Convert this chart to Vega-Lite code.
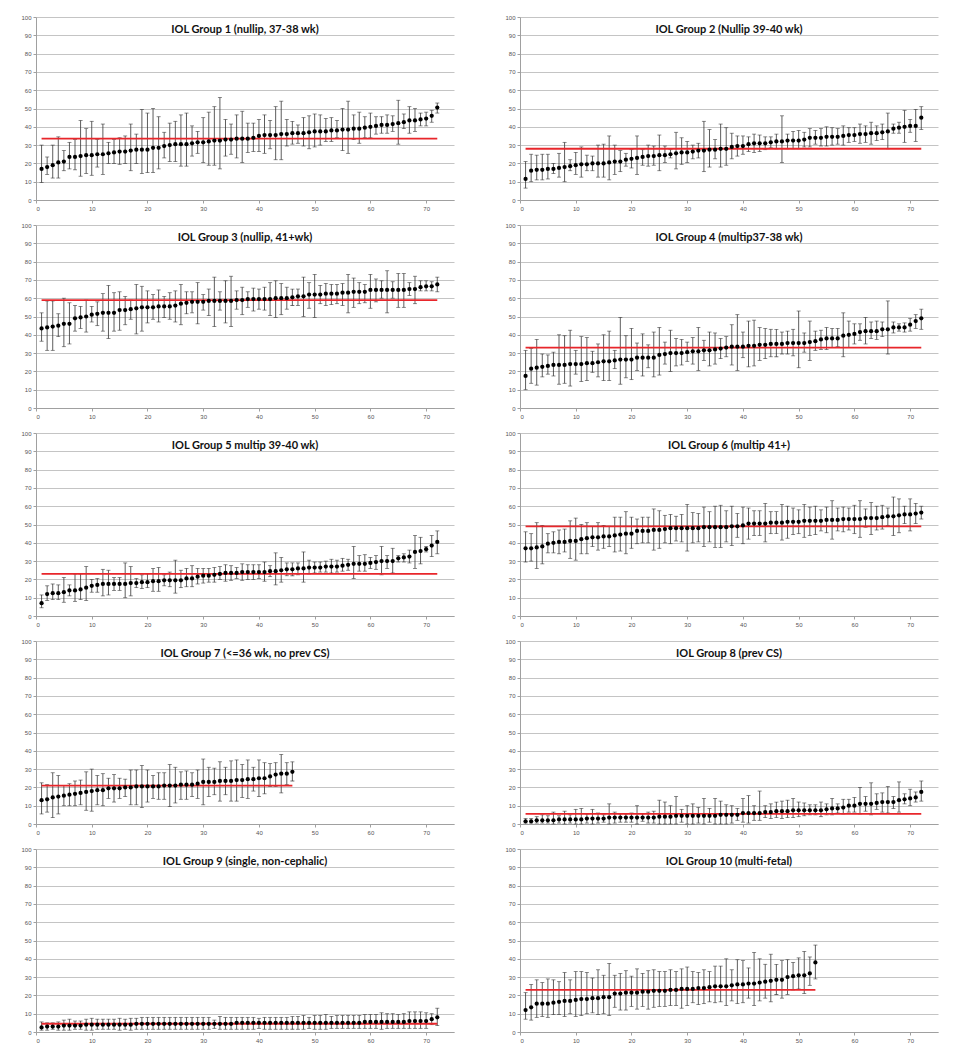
{
"$schema": "https://vega.github.io/schema/vega-lite/v6.json",
"background": "white",
"padding": {"left": 20, "top": 14, "right": 5, "bottom": 0},
"spacing": {"row": 11, "column": 50},
"columns": 2,
"datasets": {
"means": [
{"g":1,"a":1,"b":72,"m":33.5},{"g":2,"a":1,"b":72,"m":28},{"g":3,"a":1,"b":72,"m":59},{"g":4,"a":1,"b":72,"m":33},{"g":5,"a":1,"b":72,"m":23},
{"g":6,"a":1,"b":72,"m":49},{"g":7,"a":1,"b":46,"m":21},{"g":8,"a":1,"b":72,"m":5.5},{"g":9,"a":1,"b":72,"m":4.5},{"g":10,"a":1,"b":53,"m":23}
],
"pts": [
{"g":1,"i":1,"m":17,"lo":9.5,"hi":30},{"g":1,"i":2,"m":18,"lo":14,"hi":23.5},{"g":1,"i":3,"m":19,"lo":12,"hi":30},{"g":1,"i":4,"m":20.5,"lo":12,"hi":34.5},{"g":1,"i":5,"m":21,"lo":16,"hi":27},{"g":1,"i":6,"m":23.5,"lo":17,"hi":31.5},{"g":1,"i":7,"m":23.5,"lo":16.5,"hi":33},{"g":1,"i":8,"m":24,"lo":13,"hi":43.5},{"g":1,"i":9,"m":24.5,"lo":14.5,"hi":39},{"g":1,"i":10,"m":24.5,"lo":13.5,"hi":43},
{"g":1,"i":11,"m":25,"lo":18,"hi":33},{"g":1,"i":12,"m":25,"lo":14,"hi":41.5},{"g":1,"i":13,"m":25.5,"lo":20,"hi":31.5},{"g":1,"i":14,"m":26,"lo":20,"hi":33},{"g":1,"i":15,"m":26.5,"lo":19.5,"hi":34},{"g":1,"i":16,"m":26.5,"lo":20,"hi":35},{"g":1,"i":17,"m":27,"lo":16,"hi":41.5},{"g":1,"i":18,"m":27.5,"lo":20,"hi":36},{"g":1,"i":19,"m":27.5,"lo":14.5,"hi":49.5},{"g":1,"i":20,"m":27.5,"lo":15,"hi":47.5},
{"g":1,"i":21,"m":28.5,"lo":15,"hi":50},{"g":1,"i":22,"m":28.5,"lo":17,"hi":45.5},{"g":1,"i":23,"m":29.5,"lo":23,"hi":37},{"g":1,"i":24,"m":30,"lo":21,"hi":42},{"g":1,"i":25,"m":30.5,"lo":21,"hi":43},{"g":1,"i":26,"m":30.5,"lo":18.5,"hi":46.5},{"g":1,"i":27,"m":30.5,"lo":18.5,"hi":47.5},{"g":1,"i":28,"m":31,"lo":24,"hi":40.5},{"g":1,"i":29,"m":31.5,"lo":25.5,"hi":37.5},{"g":1,"i":30,"m":31.5,"lo":20.5,"hi":45},
{"g":1,"i":31,"m":32,"lo":19,"hi":48},{"g":1,"i":32,"m":32.5,"lo":19,"hi":51},{"g":1,"i":33,"m":32.5,"lo":17,"hi":56},{"g":1,"i":34,"m":33,"lo":24,"hi":44},{"g":1,"i":35,"m":33,"lo":25,"hi":41.5},{"g":1,"i":36,"m":33.5,"lo":23,"hi":46.5},{"g":1,"i":37,"m":33.5,"lo":20.5,"hi":48.5},{"g":1,"i":38,"m":33.5,"lo":26,"hi":42},{"g":1,"i":39,"m":34,"lo":26.5,"hi":42},{"g":1,"i":40,"m":35,"lo":26.5,"hi":44},
{"g":1,"i":41,"m":35.5,"lo":25.5,"hi":46.5},{"g":1,"i":42,"m":35.5,"lo":28,"hi":43.5},{"g":1,"i":43,"m":35.5,"lo":22,"hi":51},{"g":1,"i":44,"m":36,"lo":22,"hi":54},{"g":1,"i":45,"m":36,"lo":29.5,"hi":44},{"g":1,"i":46,"m":36.5,"lo":30.5,"hi":43},{"g":1,"i":47,"m":36.5,"lo":31,"hi":41},{"g":1,"i":48,"m":36.5,"lo":29.5,"hi":45},{"g":1,"i":49,"m":37,"lo":28,"hi":46},{"g":1,"i":50,"m":37.5,"lo":29,"hi":47},
{"g":1,"i":51,"m":37.5,"lo":30,"hi":46.5},{"g":1,"i":52,"m":37.5,"lo":32,"hi":44.5},{"g":1,"i":53,"m":38,"lo":32,"hi":45},{"g":1,"i":54,"m":38,"lo":34,"hi":43.5},{"g":1,"i":55,"m":38.5,"lo":27,"hi":50},{"g":1,"i":56,"m":38.5,"lo":25.5,"hi":54},{"g":1,"i":57,"m":39,"lo":33,"hi":46.5},{"g":1,"i":58,"m":39,"lo":31,"hi":48},{"g":1,"i":59,"m":39.5,"lo":34,"hi":45.5},{"g":1,"i":60,"m":40,"lo":34,"hi":47.5},
{"g":1,"i":61,"m":40.5,"lo":36,"hi":45.5},{"g":1,"i":62,"m":41,"lo":36.5,"hi":45.5},{"g":1,"i":63,"m":41,"lo":36.5,"hi":46.5},{"g":1,"i":64,"m":41.5,"lo":37.5,"hi":46},{"g":1,"i":65,"m":42,"lo":30.5,"hi":54.5},{"g":1,"i":66,"m":42.5,"lo":39,"hi":47},{"g":1,"i":67,"m":43.5,"lo":36.5,"hi":51},{"g":1,"i":68,"m":43.5,"lo":37.5,"hi":50},{"g":1,"i":69,"m":44,"lo":40.5,"hi":47.5},{"g":1,"i":70,"m":44.5,"lo":40.5,"hi":48},
{"g":1,"i":71,"m":46,"lo":42.5,"hi":49},{"g":1,"i":72,"m":50.5,"lo":47.5,"hi":53},

{"g":2,"i":1,"m":11.5,"lo":6.5,"hi":21},{"g":2,"i":2,"m":16,"lo":10,"hi":25},{"g":2,"i":3,"m":16.5,"lo":11,"hi":24.5},{"g":2,"i":4,"m":16.5,"lo":11,"hi":25},{"g":2,"i":5,"m":17,"lo":11.5,"hi":25},{"g":2,"i":6,"m":17,"lo":14.5,"hi":20},{"g":2,"i":7,"m":17.5,"lo":12.5,"hi":25.5},{"g":2,"i":8,"m":18,"lo":10,"hi":31.5},{"g":2,"i":9,"m":18.5,"lo":16,"hi":22},{"g":2,"i":10,"m":19,"lo":14,"hi":26},
{"g":2,"i":11,"m":19.5,"lo":12.5,"hi":29},{"g":2,"i":12,"m":19.5,"lo":16,"hi":24.5},{"g":2,"i":13,"m":20,"lo":16,"hi":24},{"g":2,"i":14,"m":20,"lo":12.5,"hi":30},{"g":2,"i":15,"m":20,"lo":12.5,"hi":30.5},{"g":2,"i":16,"m":20.5,"lo":11,"hi":35},{"g":2,"i":17,"m":21,"lo":14,"hi":30},{"g":2,"i":18,"m":21,"lo":15.5,"hi":27},{"g":2,"i":19,"m":22,"lo":18.5,"hi":25.5},{"g":2,"i":20,"m":22.5,"lo":17.5,"hi":27.5},
{"g":2,"i":21,"m":23,"lo":14,"hi":35},{"g":2,"i":22,"m":23.5,"lo":19,"hi":27.5},{"g":2,"i":23,"m":24,"lo":18.5,"hi":30},{"g":2,"i":24,"m":24,"lo":19,"hi":29.5},{"g":2,"i":25,"m":24.5,"lo":16,"hi":35.5},{"g":2,"i":26,"m":24.5,"lo":20.5,"hi":29.5},{"g":2,"i":27,"m":25,"lo":23,"hi":27.5},{"g":2,"i":28,"m":25.5,"lo":17,"hi":37},{"g":2,"i":29,"m":26,"lo":19.5,"hi":34},{"g":2,"i":30,"m":26,"lo":20.5,"hi":32},
{"g":2,"i":31,"m":26.5,"lo":22.5,"hi":30},{"g":2,"i":32,"m":27,"lo":23,"hi":31},{"g":2,"i":33,"m":27,"lo":15.5,"hi":43},{"g":2,"i":34,"m":27.5,"lo":18,"hi":38.5},{"g":2,"i":35,"m":27.5,"lo":22.5,"hi":33},{"g":2,"i":36,"m":28,"lo":18,"hi":41.5},{"g":2,"i":37,"m":28,"lo":19,"hi":39.5},{"g":2,"i":38,"m":29,"lo":22.5,"hi":36.5},{"g":2,"i":39,"m":29.5,"lo":24,"hi":35},{"g":2,"i":40,"m":29.5,"lo":25,"hi":35},
{"g":2,"i":41,"m":30.5,"lo":26.5,"hi":34.5},{"g":2,"i":42,"m":31,"lo":26,"hi":36},{"g":2,"i":43,"m":31,"lo":26.5,"hi":35.5},{"g":2,"i":44,"m":31,"lo":27.5,"hi":34.5},{"g":2,"i":45,"m":31.5,"lo":28.5,"hi":34.5},{"g":2,"i":46,"m":32,"lo":28,"hi":36},{"g":2,"i":47,"m":32,"lo":20.5,"hi":46},{"g":2,"i":48,"m":32.5,"lo":28,"hi":36},{"g":2,"i":49,"m":32.5,"lo":28,"hi":37.5},{"g":2,"i":50,"m":32.5,"lo":28,"hi":38},
{"g":2,"i":51,"m":33,"lo":29,"hi":37},{"g":2,"i":52,"m":34,"lo":29,"hi":39},{"g":2,"i":53,"m":34,"lo":30.5,"hi":38},{"g":2,"i":54,"m":34,"lo":29.5,"hi":39},{"g":2,"i":55,"m":34.5,"lo":29.5,"hi":40},{"g":2,"i":56,"m":34.5,"lo":30,"hi":39.5},{"g":2,"i":57,"m":34.5,"lo":30.5,"hi":39},{"g":2,"i":58,"m":35,"lo":30,"hi":40.5},{"g":2,"i":59,"m":35.5,"lo":31.5,"hi":39.5},{"g":2,"i":60,"m":35.5,"lo":32,"hi":39.5},
{"g":2,"i":61,"m":36,"lo":31,"hi":41.5},{"g":2,"i":62,"m":36,"lo":31.5,"hi":40.5},{"g":2,"i":63,"m":36.5,"lo":30.5,"hi":42.5},{"g":2,"i":64,"m":36.5,"lo":32.5,"hi":40.5},{"g":2,"i":65,"m":37,"lo":33,"hi":41.5},{"g":2,"i":66,"m":37.5,"lo":28,"hi":47.5},{"g":2,"i":67,"m":39,"lo":36.5,"hi":41.5},{"g":2,"i":68,"m":39.5,"lo":36.5,"hi":42.5},{"g":2,"i":69,"m":40,"lo":31.5,"hi":49},{"g":2,"i":70,"m":40.5,"lo":37,"hi":44},
{"g":2,"i":71,"m":40.5,"lo":32,"hi":49.5},{"g":2,"i":72,"m":45,"lo":38.5,"hi":51},

{"g":3,"i":1,"m":43.5,"lo":36.5,"hi":52},{"g":3,"i":2,"m":44,"lo":31.5,"hi":58.5},{"g":3,"i":3,"m":44.5,"lo":31.5,"hi":58.5},{"g":3,"i":4,"m":45,"lo":39,"hi":51.5},{"g":3,"i":5,"m":46,"lo":33.5,"hi":60},{"g":3,"i":6,"m":46,"lo":35,"hi":57.5},{"g":3,"i":7,"m":49,"lo":42,"hi":56},{"g":3,"i":8,"m":49.5,"lo":43.5,"hi":55.5},{"g":3,"i":9,"m":50,"lo":41.5,"hi":59},{"g":3,"i":10,"m":51,"lo":47,"hi":55.5},
{"g":3,"i":11,"m":51.5,"lo":45,"hi":58},{"g":3,"i":12,"m":52,"lo":42,"hi":62.5},{"g":3,"i":13,"m":52,"lo":38,"hi":67},{"g":3,"i":14,"m":52,"lo":42,"hi":63},{"g":3,"i":15,"m":53.5,"lo":42.5,"hi":63.5},{"g":3,"i":16,"m":53.5,"lo":45.5,"hi":61},{"g":3,"i":17,"m":54,"lo":48.5,"hi":59},{"g":3,"i":18,"m":54.5,"lo":40.5,"hi":67.5},{"g":3,"i":19,"m":55,"lo":42,"hi":66.5},{"g":3,"i":20,"m":55,"lo":46.5,"hi":64},
{"g":3,"i":21,"m":55,"lo":48.5,"hi":62},{"g":3,"i":22,"m":55.5,"lo":47,"hi":64.5},{"g":3,"i":23,"m":55.5,"lo":49.5,"hi":61},{"g":3,"i":24,"m":55.5,"lo":48.5,"hi":63},{"g":3,"i":25,"m":56,"lo":47,"hi":64},{"g":3,"i":26,"m":57,"lo":45.5,"hi":67.5},{"g":3,"i":27,"m":57.5,"lo":51.5,"hi":63.5},{"g":3,"i":28,"m":58,"lo":52,"hi":63.5},{"g":3,"i":29,"m":58,"lo":46,"hi":68.5},{"g":3,"i":30,"m":58,"lo":53.5,"hi":62},
{"g":3,"i":31,"m":58.5,"lo":50.5,"hi":65},{"g":3,"i":32,"m":58.5,"lo":44.5,"hi":71.5},{"g":3,"i":33,"m":58.5,"lo":53.5,"hi":63.5},{"g":3,"i":34,"m":58.5,"lo":46.5,"hi":69.5},{"g":3,"i":35,"m":58.5,"lo":44.5,"hi":72},{"g":3,"i":36,"m":59,"lo":54,"hi":64},{"g":3,"i":37,"m":59,"lo":51,"hi":66},{"g":3,"i":38,"m":59.5,"lo":55,"hi":63.5},{"g":3,"i":39,"m":59.5,"lo":53,"hi":65.5},{"g":3,"i":40,"m":59.5,"lo":54,"hi":65},
{"g":3,"i":41,"m":59.5,"lo":53.5,"hi":66},{"g":3,"i":42,"m":59.5,"lo":50.5,"hi":68.5},{"g":3,"i":43,"m":60,"lo":49.5,"hi":69.5},{"g":3,"i":44,"m":60,"lo":51,"hi":68},{"g":3,"i":45,"m":60,"lo":54,"hi":66},{"g":3,"i":46,"m":60.5,"lo":56,"hi":65},{"g":3,"i":47,"m":61,"lo":56,"hi":65},{"g":3,"i":48,"m":61,"lo":50,"hi":71.5},{"g":3,"i":49,"m":62,"lo":54.5,"hi":68.5},{"g":3,"i":50,"m":62,"lo":49.5,"hi":73},
{"g":3,"i":51,"m":62,"lo":57,"hi":67},{"g":3,"i":52,"m":62.5,"lo":56,"hi":68},{"g":3,"i":53,"m":62.5,"lo":56.5,"hi":67.5},{"g":3,"i":54,"m":62.5,"lo":57,"hi":67.5},{"g":3,"i":55,"m":63,"lo":56,"hi":68},{"g":3,"i":56,"m":63,"lo":52,"hi":73},{"g":3,"i":57,"m":63.5,"lo":55,"hi":71},{"g":3,"i":58,"m":63.5,"lo":57,"hi":68.5},{"g":3,"i":59,"m":63.5,"lo":57.5,"hi":67.5},{"g":3,"i":60,"m":64.5,"lo":54.5,"hi":73},
{"g":3,"i":61,"m":64.5,"lo":58,"hi":70.5},{"g":3,"i":62,"m":64.5,"lo":60,"hi":69.5},{"g":3,"i":63,"m":64.5,"lo":52,"hi":75},{"g":3,"i":64,"m":64.5,"lo":60,"hi":69},{"g":3,"i":65,"m":64.5,"lo":55,"hi":73.5},{"g":3,"i":66,"m":64.5,"lo":55,"hi":73.5},{"g":3,"i":67,"m":65,"lo":61.5,"hi":68.5},{"g":3,"i":68,"m":65,"lo":57,"hi":72},{"g":3,"i":69,"m":66,"lo":64,"hi":69.5},{"g":3,"i":70,"m":66.5,"lo":64,"hi":69.5},
{"g":3,"i":71,"m":66.5,"lo":64,"hi":69},{"g":3,"i":72,"m":67.5,"lo":63.5,"hi":71.5},

{"g":4,"i":1,"m":17.5,"lo":10,"hi":31.5},{"g":4,"i":2,"m":21.5,"lo":13.5,"hi":32.5},{"g":4,"i":3,"m":22,"lo":12.5,"hi":37.5},{"g":4,"i":4,"m":22.5,"lo":17,"hi":29.5},{"g":4,"i":5,"m":23,"lo":18.5,"hi":29},{"g":4,"i":6,"m":23.5,"lo":17.5,"hi":30.5},{"g":4,"i":7,"m":23.5,"lo":13,"hi":40},{"g":4,"i":8,"m":23.5,"lo":13.5,"hi":39.5},{"g":4,"i":9,"m":24,"lo":12,"hi":42.5},{"g":4,"i":10,"m":24,"lo":18.5,"hi":31.5},
{"g":4,"i":11,"m":24,"lo":14.5,"hi":39},{"g":4,"i":12,"m":24.5,"lo":15,"hi":38.5},{"g":4,"i":13,"m":24.5,"lo":19.5,"hi":31},{"g":4,"i":14,"m":25,"lo":17,"hi":35},{"g":4,"i":15,"m":25.5,"lo":15,"hi":40},{"g":4,"i":16,"m":25.5,"lo":15,"hi":42},{"g":4,"i":17,"m":26,"lo":21.5,"hi":31.5},{"g":4,"i":18,"m":26.5,"lo":13,"hi":49.5},{"g":4,"i":19,"m":26.5,"lo":16.5,"hi":39.5},{"g":4,"i":20,"m":26.5,"lo":15.5,"hi":43.5},
{"g":4,"i":21,"m":27.5,"lo":20.5,"hi":35.5},{"g":4,"i":22,"m":27.5,"lo":17.5,"hi":40.5},{"g":4,"i":23,"m":27.5,"lo":22,"hi":34.5},{"g":4,"i":24,"m":27.5,"lo":17,"hi":41.5},{"g":4,"i":25,"m":29,"lo":18,"hi":44},{"g":4,"i":26,"m":29.5,"lo":24,"hi":36},{"g":4,"i":27,"m":30,"lo":20,"hi":42.5},{"g":4,"i":28,"m":30,"lo":23,"hi":38},{"g":4,"i":29,"m":30,"lo":23.5,"hi":37.5},{"g":4,"i":30,"m":30.5,"lo":25.5,"hi":36},
{"g":4,"i":31,"m":31,"lo":24,"hi":38.5},{"g":4,"i":32,"m":31,"lo":20.5,"hi":44},{"g":4,"i":33,"m":31.5,"lo":26,"hi":37},{"g":4,"i":34,"m":31.5,"lo":23,"hi":41.5},{"g":4,"i":35,"m":32,"lo":24,"hi":41},{"g":4,"i":36,"m":32.5,"lo":27,"hi":38},{"g":4,"i":37,"m":33,"lo":28,"hi":39},{"g":4,"i":38,"m":33.5,"lo":23.5,"hi":45.5},{"g":4,"i":39,"m":33.5,"lo":20.5,"hi":51},{"g":4,"i":40,"m":33.5,"lo":27.5,"hi":41.5},
{"g":4,"i":41,"m":34,"lo":22.5,"hi":47.5},{"g":4,"i":42,"m":34,"lo":23,"hi":48},{"g":4,"i":43,"m":34.5,"lo":26,"hi":44},{"g":4,"i":44,"m":34.5,"lo":27,"hi":43.5},{"g":4,"i":45,"m":35,"lo":28,"hi":43},{"g":4,"i":46,"m":35,"lo":28,"hi":43},{"g":4,"i":47,"m":35,"lo":29.5,"hi":41.5},{"g":4,"i":48,"m":35.5,"lo":29.5,"hi":42},{"g":4,"i":49,"m":35.5,"lo":28.5,"hi":43},{"g":4,"i":50,"m":35.5,"lo":22,"hi":53},
{"g":4,"i":51,"m":35.5,"lo":30.5,"hi":41},{"g":4,"i":52,"m":36,"lo":26,"hi":47.5},{"g":4,"i":53,"m":36.5,"lo":31.5,"hi":42},{"g":4,"i":54,"m":37.5,"lo":32,"hi":42.5},{"g":4,"i":55,"m":38,"lo":32,"hi":44},{"g":4,"i":56,"m":38,"lo":33,"hi":43.5},{"g":4,"i":57,"m":38,"lo":33.5,"hi":43.5},{"g":4,"i":58,"m":39.5,"lo":28,"hi":52},{"g":4,"i":59,"m":40,"lo":33,"hi":47.5},{"g":4,"i":60,"m":40.5,"lo":35,"hi":46},
{"g":4,"i":61,"m":41.5,"lo":37,"hi":46},{"g":4,"i":62,"m":42,"lo":35,"hi":49.5},{"g":4,"i":63,"m":42,"lo":38,"hi":47},{"g":4,"i":64,"m":42,"lo":37.5,"hi":47.5},{"g":4,"i":65,"m":43,"lo":39,"hi":47},{"g":4,"i":66,"m":43,"lo":29.5,"hi":58.5},{"g":4,"i":67,"m":44,"lo":41,"hi":47},{"g":4,"i":68,"m":44,"lo":42,"hi":46},{"g":4,"i":69,"m":44,"lo":41.5,"hi":46.5},{"g":4,"i":70,"m":45.5,"lo":42,"hi":49},
{"g":4,"i":71,"m":47.5,"lo":43.5,"hi":51},{"g":4,"i":72,"m":49,"lo":43,"hi":54},

{"g":5,"i":1,"m":7,"lo":4.5,"hi":11.5},{"g":5,"i":2,"m":12,"lo":8.5,"hi":16.5},{"g":5,"i":3,"m":12.5,"lo":9,"hi":17.5},{"g":5,"i":4,"m":12.5,"lo":9,"hi":17},{"g":5,"i":5,"m":13,"lo":7.5,"hi":21},{"g":5,"i":6,"m":14,"lo":11,"hi":17},{"g":5,"i":7,"m":14,"lo":8,"hi":23},{"g":5,"i":8,"m":14.5,"lo":9,"hi":23},{"g":5,"i":9,"m":15.5,"lo":8.5,"hi":27},{"g":5,"i":10,"m":16.5,"lo":13,"hi":20},
{"g":5,"i":11,"m":17,"lo":13,"hi":20.5},{"g":5,"i":12,"m":17.5,"lo":11,"hi":25.5},{"g":5,"i":13,"m":17.5,"lo":11.5,"hi":25},{"g":5,"i":14,"m":17.5,"lo":14,"hi":21},{"g":5,"i":15,"m":17.5,"lo":14,"hi":21},{"g":5,"i":16,"m":17.5,"lo":10,"hi":29},{"g":5,"i":17,"m":18,"lo":11,"hi":27},{"g":5,"i":18,"m":18,"lo":15.5,"hi":20.5},{"g":5,"i":19,"m":18.5,"lo":15,"hi":22.5},{"g":5,"i":20,"m":18.5,"lo":15.5,"hi":23},
{"g":5,"i":21,"m":19,"lo":13.5,"hi":26},{"g":5,"i":22,"m":19,"lo":13.5,"hi":26.5},{"g":5,"i":23,"m":19.5,"lo":16.5,"hi":22.5},{"g":5,"i":24,"m":19.5,"lo":16,"hi":24},{"g":5,"i":25,"m":19.5,"lo":12.5,"hi":30.5},{"g":5,"i":26,"m":19.5,"lo":15.5,"hi":25},{"g":5,"i":27,"m":20.5,"lo":16,"hi":26},{"g":5,"i":28,"m":20.5,"lo":16,"hi":27.5},{"g":5,"i":29,"m":21.5,"lo":17.5,"hi":26},{"g":5,"i":30,"m":22,"lo":18,"hi":26},
{"g":5,"i":31,"m":22,"lo":18.5,"hi":26},{"g":5,"i":32,"m":22.5,"lo":18.5,"hi":26.5},{"g":5,"i":33,"m":23,"lo":20,"hi":27},{"g":5,"i":34,"m":23.5,"lo":19,"hi":28},{"g":5,"i":35,"m":23.5,"lo":19.5,"hi":27.5},{"g":5,"i":36,"m":23.5,"lo":20.5,"hi":26.5},{"g":5,"i":37,"m":24,"lo":19.5,"hi":28.5},{"g":5,"i":38,"m":24,"lo":20,"hi":28},{"g":5,"i":39,"m":24,"lo":20,"hi":28},{"g":5,"i":40,"m":24,"lo":20.5,"hi":28},
{"g":5,"i":41,"m":24,"lo":19,"hi":29.5},{"g":5,"i":42,"m":24.5,"lo":21.5,"hi":27.5},{"g":5,"i":43,"m":24.5,"lo":17,"hi":34.5},{"g":5,"i":44,"m":25,"lo":18.5,"hi":32},{"g":5,"i":45,"m":25.5,"lo":22,"hi":29},{"g":5,"i":46,"m":25.5,"lo":22,"hi":29},{"g":5,"i":47,"m":26,"lo":22.5,"hi":29},{"g":5,"i":48,"m":26,"lo":18.5,"hi":35},{"g":5,"i":49,"m":26.5,"lo":23,"hi":30.5},{"g":5,"i":50,"m":26.5,"lo":23.5,"hi":29.5},
{"g":5,"i":51,"m":26.5,"lo":24,"hi":29.5},{"g":5,"i":52,"m":27,"lo":24,"hi":30},{"g":5,"i":53,"m":27,"lo":23.5,"hi":31},{"g":5,"i":54,"m":27,"lo":24,"hi":30.5},{"g":5,"i":55,"m":27.5,"lo":24.5,"hi":31.5},{"g":5,"i":56,"m":28,"lo":25,"hi":31},{"g":5,"i":57,"m":28.5,"lo":20.5,"hi":38},{"g":5,"i":58,"m":28.5,"lo":24.5,"hi":33},{"g":5,"i":59,"m":28.5,"lo":24.5,"hi":33.5},{"g":5,"i":60,"m":29,"lo":26,"hi":32},
{"g":5,"i":61,"m":29.5,"lo":25.5,"hi":33},{"g":5,"i":62,"m":30,"lo":22.5,"hi":38},{"g":5,"i":63,"m":30,"lo":26,"hi":33},{"g":5,"i":64,"m":30,"lo":23.5,"hi":37},{"g":5,"i":65,"m":31.5,"lo":29.5,"hi":33},{"g":5,"i":66,"m":32,"lo":29.5,"hi":34},{"g":5,"i":67,"m":32.5,"lo":29,"hi":36},{"g":5,"i":68,"m":35,"lo":26,"hi":44},{"g":5,"i":69,"m":35.5,"lo":28.5,"hi":43},{"g":5,"i":70,"m":36.5,"lo":35,"hi":38},
{"g":5,"i":71,"m":38.5,"lo":32.5,"hi":44},{"g":5,"i":72,"m":40.5,"lo":34,"hi":46.5},

{"g":6,"i":1,"m":37,"lo":29.5,"hi":46},{"g":6,"i":2,"m":37,"lo":30,"hi":45},{"g":6,"i":3,"m":37.5,"lo":26,"hi":51},{"g":6,"i":4,"m":38,"lo":28.5,"hi":49.5},{"g":6,"i":5,"m":39.5,"lo":34.5,"hi":45},{"g":6,"i":6,"m":40,"lo":34.5,"hi":46},{"g":6,"i":7,"m":40.5,"lo":34,"hi":47},{"g":6,"i":8,"m":40.5,"lo":35,"hi":47.5},{"g":6,"i":9,"m":41,"lo":31.5,"hi":52},{"g":6,"i":10,"m":41,"lo":30.5,"hi":53.5},
{"g":6,"i":11,"m":42,"lo":34,"hi":50},{"g":6,"i":12,"m":42.5,"lo":34,"hi":51},{"g":6,"i":13,"m":43,"lo":38,"hi":49},{"g":6,"i":14,"m":43,"lo":36,"hi":51},{"g":6,"i":15,"m":43.5,"lo":37,"hi":49.5},{"g":6,"i":16,"m":43.5,"lo":38,"hi":49},{"g":6,"i":17,"m":44,"lo":35,"hi":54},{"g":6,"i":18,"m":44.5,"lo":35.5,"hi":54},{"g":6,"i":19,"m":45,"lo":34,"hi":57},{"g":6,"i":20,"m":45,"lo":37,"hi":54},
{"g":6,"i":21,"m":46.5,"lo":39.5,"hi":53},{"g":6,"i":22,"m":46.5,"lo":40,"hi":54},{"g":6,"i":23,"m":46.5,"lo":40,"hi":54},{"g":6,"i":24,"m":47,"lo":36,"hi":58.5},{"g":6,"i":25,"m":47,"lo":37,"hi":57.5},{"g":6,"i":26,"m":47.5,"lo":40,"hi":55},{"g":6,"i":27,"m":48,"lo":39.5,"hi":55.5},{"g":6,"i":28,"m":48,"lo":41,"hi":54.5},{"g":6,"i":29,"m":48,"lo":40.5,"hi":55.5},{"g":6,"i":30,"m":48,"lo":35.5,"hi":61},
{"g":6,"i":31,"m":48,"lo":40,"hi":56.5},{"g":6,"i":32,"m":48,"lo":40.5,"hi":56},{"g":6,"i":33,"m":48.5,"lo":38,"hi":59.5},{"g":6,"i":34,"m":48.5,"lo":40.5,"hi":57},{"g":6,"i":35,"m":48.5,"lo":37.5,"hi":60},{"g":6,"i":36,"m":48.5,"lo":37.5,"hi":60.5},{"g":6,"i":37,"m":48.5,"lo":40.5,"hi":57.5},{"g":6,"i":38,"m":49,"lo":38.5,"hi":60},{"g":6,"i":39,"m":49,"lo":43,"hi":56},{"g":6,"i":40,"m":49.5,"lo":39.5,"hi":59.5},
{"g":6,"i":41,"m":50.5,"lo":42,"hi":59},{"g":6,"i":42,"m":50.5,"lo":44,"hi":57.5},{"g":6,"i":43,"m":50.5,"lo":44,"hi":57.5},{"g":6,"i":44,"m":50.5,"lo":40.5,"hi":61.5},{"g":6,"i":45,"m":51,"lo":45,"hi":57},{"g":6,"i":46,"m":51,"lo":45,"hi":57},{"g":6,"i":47,"m":51,"lo":41.5,"hi":61},{"g":6,"i":48,"m":51.5,"lo":42.5,"hi":60},{"g":6,"i":49,"m":51.5,"lo":44.5,"hi":59},{"g":6,"i":50,"m":51.5,"lo":45,"hi":58},
{"g":6,"i":51,"m":52,"lo":43,"hi":61},{"g":6,"i":52,"m":52,"lo":44,"hi":59.5},{"g":6,"i":53,"m":52,"lo":44.5,"hi":60},{"g":6,"i":54,"m":52,"lo":46.5,"hi":58},{"g":6,"i":55,"m":52.5,"lo":45.5,"hi":59.5},{"g":6,"i":56,"m":52.5,"lo":42,"hi":63},{"g":6,"i":57,"m":52.5,"lo":46.5,"hi":59},{"g":6,"i":58,"m":53,"lo":46,"hi":59.5},{"g":6,"i":59,"m":53,"lo":47,"hi":59},{"g":6,"i":60,"m":53,"lo":45,"hi":60.5},
{"g":6,"i":61,"m":53,"lo":43,"hi":63},{"g":6,"i":62,"m":53.5,"lo":48.5,"hi":58.5},{"g":6,"i":63,"m":53.5,"lo":44.5,"hi":62},{"g":6,"i":64,"m":53.5,"lo":47,"hi":60},{"g":6,"i":65,"m":54,"lo":47.5,"hi":60.5},{"g":6,"i":66,"m":54.5,"lo":49.5,"hi":59},{"g":6,"i":67,"m":54.5,"lo":44,"hi":65},{"g":6,"i":68,"m":55,"lo":45.5,"hi":64},{"g":6,"i":69,"m":55.5,"lo":50.5,"hi":60},{"g":6,"i":70,"m":55.5,"lo":46.5,"hi":64},
{"g":6,"i":71,"m":56,"lo":50.5,"hi":61.5},{"g":6,"i":72,"m":56.5,"lo":53,"hi":60},

{"g":7,"i":1,"m":13,"lo":5.5,"hi":22.5},{"g":7,"i":2,"m":13.5,"lo":6.5,"hi":21.5},{"g":7,"i":3,"m":14.5,"lo":3.5,"hi":28},{"g":7,"i":4,"m":15,"lo":5.5,"hi":26.5},{"g":7,"i":5,"m":15.5,"lo":10,"hi":21},{"g":7,"i":6,"m":16,"lo":10,"hi":22},{"g":7,"i":7,"m":16.5,"lo":10,"hi":23.5},{"g":7,"i":8,"m":17,"lo":10.5,"hi":24},{"g":7,"i":9,"m":17.5,"lo":7.5,"hi":28.5},{"g":7,"i":10,"m":18,"lo":7,"hi":30},
{"g":7,"i":11,"m":18.5,"lo":10.5,"hi":26.5},{"g":7,"i":12,"m":18.5,"lo":10,"hi":27.5},{"g":7,"i":13,"m":19.5,"lo":14,"hi":25},{"g":7,"i":14,"m":19.5,"lo":12,"hi":27},{"g":7,"i":15,"m":19.5,"lo":14,"hi":25},{"g":7,"i":16,"m":20,"lo":15,"hi":24.5},{"g":7,"i":17,"m":20,"lo":10.5,"hi":29.5},{"g":7,"i":18,"m":20.5,"lo":10.5,"hi":29.5},{"g":7,"i":19,"m":20.5,"lo":9,"hi":32},{"g":7,"i":20,"m":20.5,"lo":12,"hi":29.5},
{"g":7,"i":21,"m":20.5,"lo":14,"hi":26.5},{"g":7,"i":22,"m":20.5,"lo":13.5,"hi":28},{"g":7,"i":23,"m":21,"lo":13.5,"hi":28},{"g":7,"i":24,"m":21,"lo":9.5,"hi":32.5},{"g":7,"i":25,"m":21,"lo":11.5,"hi":31},{"g":7,"i":26,"m":21.5,"lo":13.5,"hi":28.5},{"g":7,"i":27,"m":21.5,"lo":13.5,"hi":29},{"g":7,"i":28,"m":21.5,"lo":15,"hi":28},{"g":7,"i":29,"m":22,"lo":14,"hi":29.5},{"g":7,"i":30,"m":23,"lo":10.5,"hi":35.5},
{"g":7,"i":31,"m":23,"lo":15,"hi":31},{"g":7,"i":32,"m":23,"lo":16,"hi":30.5},{"g":7,"i":33,"m":23.5,"lo":12.5,"hi":34},{"g":7,"i":34,"m":23.5,"lo":16,"hi":31},{"g":7,"i":35,"m":23.5,"lo":12.5,"hi":34.5},{"g":7,"i":36,"m":24,"lo":12.5,"hi":35},{"g":7,"i":37,"m":24,"lo":14.5,"hi":32.5},{"g":7,"i":38,"m":24.5,"lo":14,"hi":35},{"g":7,"i":39,"m":24.5,"lo":18,"hi":31},{"g":7,"i":40,"m":25,"lo":15,"hi":35},
{"g":7,"i":41,"m":25,"lo":16.5,"hi":33.5},{"g":7,"i":42,"m":26,"lo":20.5,"hi":33},{"g":7,"i":43,"m":27,"lo":20.5,"hi":33.5},{"g":7,"i":44,"m":27.5,"lo":17,"hi":38},{"g":7,"i":45,"m":27.5,"lo":21.5,"hi":33.5},{"g":7,"i":46,"m":28.5,"lo":23.5,"hi":34},

{"g":8,"i":1,"m":1.5,"lo":0.5,"hi":3},{"g":8,"i":2,"m":1.5,"lo":0.5,"hi":3},{"g":8,"i":3,"m":2,"lo":0.5,"hi":4},{"g":8,"i":4,"m":2,"lo":0.5,"hi":5},{"g":8,"i":5,"m":2,"lo":0.5,"hi":4.5},{"g":8,"i":6,"m":2,"lo":0,"hi":6.5},{"g":8,"i":7,"m":2.5,"lo":0.5,"hi":4.5},{"g":8,"i":8,"m":2.5,"lo":0,"hi":7},{"g":8,"i":9,"m":2.5,"lo":0.5,"hi":5},{"g":8,"i":10,"m":2.5,"lo":0,"hi":8},
{"g":8,"i":11,"m":2.5,"lo":0,"hi":8.5},{"g":8,"i":12,"m":3,"lo":0.5,"hi":5.5},{"g":8,"i":13,"m":3,"lo":0,"hi":8},{"g":8,"i":14,"m":3,"lo":0.5,"hi":6},{"g":8,"i":15,"m":3,"lo":1,"hi":5},{"g":8,"i":16,"m":3.5,"lo":0,"hi":11},{"g":8,"i":17,"m":3.5,"lo":0.5,"hi":6.5},{"g":8,"i":18,"m":3.5,"lo":1,"hi":5.5},{"g":8,"i":19,"m":3.5,"lo":1,"hi":5.5},{"g":8,"i":20,"m":3.5,"lo":1,"hi":6},
{"g":8,"i":21,"m":3.5,"lo":0,"hi":10},{"g":8,"i":22,"m":3.5,"lo":1.5,"hi":5.5},{"g":8,"i":23,"m":3.5,"lo":0.5,"hi":6.5},{"g":8,"i":24,"m":3.5,"lo":0.5,"hi":7},{"g":8,"i":25,"m":4,"lo":0,"hi":13},{"g":8,"i":26,"m":4,"lo":0,"hi":12},{"g":8,"i":27,"m":4,"lo":0,"hi":10},{"g":8,"i":28,"m":4.5,"lo":0,"hi":15},{"g":8,"i":29,"m":4.5,"lo":1,"hi":8},{"g":8,"i":30,"m":4.5,"lo":0,"hi":10},
{"g":8,"i":31,"m":4.5,"lo":0,"hi":11},{"g":8,"i":32,"m":4.5,"lo":0.5,"hi":9},{"g":8,"i":33,"m":4.5,"lo":0,"hi":14},{"g":8,"i":34,"m":4.5,"lo":1,"hi":8.5},{"g":8,"i":35,"m":4.5,"lo":0,"hi":14},{"g":8,"i":36,"m":5,"lo":0,"hi":12.5},{"g":8,"i":37,"m":5,"lo":0,"hi":10.5},{"g":8,"i":38,"m":5,"lo":0.5,"hi":10},{"g":8,"i":39,"m":5,"lo":2,"hi":8.5},{"g":8,"i":40,"m":6,"lo":1,"hi":14},
{"g":8,"i":41,"m":6,"lo":0.5,"hi":15.5},{"g":8,"i":42,"m":6,"lo":2,"hi":10},{"g":8,"i":43,"m":6,"lo":2,"hi":18},{"g":8,"i":44,"m":6.5,"lo":3.5,"hi":10},{"g":8,"i":45,"m":6.5,"lo":3,"hi":11},{"g":8,"i":46,"m":7,"lo":3.5,"hi":12},{"g":8,"i":47,"m":7,"lo":3,"hi":12.5},{"g":8,"i":48,"m":7,"lo":3.5,"hi":13},{"g":8,"i":49,"m":7.5,"lo":3.5,"hi":14},{"g":8,"i":50,"m":7.5,"lo":4,"hi":12},
{"g":8,"i":51,"m":7.5,"lo":4.5,"hi":11.5},{"g":8,"i":52,"m":7.5,"lo":5,"hi":10.5},{"g":8,"i":53,"m":7.5,"lo":5,"hi":10.5},{"g":8,"i":54,"m":7.5,"lo":4,"hi":12},{"g":8,"i":55,"m":8,"lo":5,"hi":11},{"g":8,"i":56,"m":8.5,"lo":5,"hi":14},{"g":8,"i":57,"m":8.5,"lo":6,"hi":11},{"g":8,"i":58,"m":9,"lo":5.5,"hi":13.5},{"g":8,"i":59,"m":10,"lo":6.5,"hi":13.5},{"g":8,"i":60,"m":10,"lo":6.5,"hi":14.5},
{"g":8,"i":61,"m":11,"lo":5.5,"hi":20},{"g":8,"i":62,"m":11,"lo":7,"hi":15},{"g":8,"i":63,"m":11,"lo":5,"hi":22.5},{"g":8,"i":64,"m":11.5,"lo":8,"hi":16.5},{"g":8,"i":65,"m":12,"lo":6.5,"hi":17},{"g":8,"i":66,"m":12,"lo":6,"hi":20.5},{"g":8,"i":67,"m":12,"lo":8.5,"hi":15},{"g":8,"i":68,"m":13,"lo":6.5,"hi":23},{"g":8,"i":69,"m":13.5,"lo":11,"hi":16.5},{"g":8,"i":70,"m":14,"lo":10,"hi":19},
{"g":8,"i":71,"m":14.5,"lo":12,"hi":17.5},{"g":8,"i":72,"m":17.5,"lo":12.5,"hi":23.5},

{"g":9,"i":1,"m":2.5,"lo":1,"hi":5.5},{"g":9,"i":2,"m":3,"lo":1,"hi":5},{"g":9,"i":3,"m":3,"lo":1.5,"hi":5},{"g":9,"i":4,"m":3,"lo":1,"hi":5.5},{"g":9,"i":5,"m":3.5,"lo":1,"hi":6.5},{"g":9,"i":6,"m":3.5,"lo":1,"hi":7},{"g":9,"i":7,"m":3.5,"lo":1.5,"hi":6},{"g":9,"i":8,"m":3.5,"lo":1.5,"hi":6},{"g":9,"i":9,"m":4,"lo":1,"hi":7},{"g":9,"i":10,"m":4,"lo":1,"hi":7.5},
{"g":9,"i":11,"m":4,"lo":1.5,"hi":7},{"g":9,"i":12,"m":4,"lo":1.5,"hi":7},{"g":9,"i":13,"m":4,"lo":1.5,"hi":7},{"g":9,"i":14,"m":4,"lo":1.5,"hi":7},{"g":9,"i":15,"m":4,"lo":1,"hi":7.5},{"g":9,"i":16,"m":4,"lo":1.5,"hi":7},{"g":9,"i":17,"m":4,"lo":1,"hi":7.5},{"g":9,"i":18,"m":4.5,"lo":1.5,"hi":7.5},{"g":9,"i":19,"m":4.5,"lo":1.5,"hi":8},{"g":9,"i":20,"m":4.5,"lo":1.5,"hi":8},
{"g":9,"i":21,"m":4.5,"lo":1.5,"hi":8},{"g":9,"i":22,"m":4.5,"lo":1.5,"hi":8},{"g":9,"i":23,"m":4.5,"lo":1.5,"hi":8},{"g":9,"i":24,"m":4.5,"lo":1.5,"hi":8},{"g":9,"i":25,"m":4.5,"lo":1.5,"hi":8},{"g":9,"i":26,"m":4.5,"lo":1.5,"hi":8},{"g":9,"i":27,"m":4.5,"lo":1.5,"hi":8},{"g":9,"i":28,"m":4.5,"lo":1.5,"hi":8},{"g":9,"i":29,"m":4.5,"lo":1.5,"hi":8},{"g":9,"i":30,"m":4.5,"lo":1.5,"hi":8},
{"g":9,"i":31,"m":4.5,"lo":1.5,"hi":8},{"g":9,"i":32,"m":4.5,"lo":2,"hi":6.5},{"g":9,"i":33,"m":4.5,"lo":1.5,"hi":8.5},{"g":9,"i":34,"m":4.5,"lo":1.5,"hi":8},{"g":9,"i":35,"m":4.5,"lo":1.5,"hi":8},{"g":9,"i":36,"m":5,"lo":1.5,"hi":8},{"g":9,"i":37,"m":5,"lo":1.5,"hi":8},{"g":9,"i":38,"m":5,"lo":1.5,"hi":8},{"g":9,"i":39,"m":5,"lo":1.5,"hi":8},{"g":9,"i":40,"m":5,"lo":2,"hi":7.5},
{"g":9,"i":41,"m":5,"lo":1.5,"hi":8},{"g":9,"i":42,"m":5,"lo":1.5,"hi":8},{"g":9,"i":43,"m":5,"lo":1.5,"hi":8},{"g":9,"i":44,"m":5,"lo":1.5,"hi":8},{"g":9,"i":45,"m":5,"lo":1.5,"hi":8},{"g":9,"i":46,"m":5,"lo":1.5,"hi":8.5},{"g":9,"i":47,"m":5,"lo":1.5,"hi":8.5},{"g":9,"i":48,"m":5,"lo":1.5,"hi":9},{"g":9,"i":49,"m":5,"lo":2,"hi":8},{"g":9,"i":50,"m":5,"lo":1.5,"hi":9},
{"g":9,"i":51,"m":5,"lo":1.5,"hi":9},{"g":9,"i":52,"m":5,"lo":1.5,"hi":9.5},{"g":9,"i":53,"m":5,"lo":2,"hi":8.5},{"g":9,"i":54,"m":5,"lo":2,"hi":9},{"g":9,"i":55,"m":5,"lo":2,"hi":9},{"g":9,"i":56,"m":5,"lo":2,"hi":9},{"g":9,"i":57,"m":5,"lo":2,"hi":9},{"g":9,"i":58,"m":5,"lo":2,"hi":9},{"g":9,"i":59,"m":5.5,"lo":2,"hi":9.5},{"g":9,"i":60,"m":5.5,"lo":2,"hi":9.5},
{"g":9,"i":61,"m":5.5,"lo":2,"hi":9.5},{"g":9,"i":62,"m":5.5,"lo":1.5,"hi":10.5},{"g":9,"i":63,"m":5.5,"lo":2,"hi":10},{"g":9,"i":64,"m":5.5,"lo":2,"hi":10},{"g":9,"i":65,"m":5.5,"lo":2,"hi":9.5},{"g":9,"i":66,"m":5.5,"lo":2,"hi":10},{"g":9,"i":67,"m":6,"lo":2,"hi":11},{"g":9,"i":68,"m":6,"lo":2,"hi":11},{"g":9,"i":69,"m":6,"lo":2,"hi":11},{"g":9,"i":70,"m":6,"lo":2,"hi":10.5},
{"g":9,"i":71,"m":7,"lo":4,"hi":10},{"g":9,"i":72,"m":8,"lo":3.5,"hi":13},

{"g":10,"i":1,"m":12,"lo":7,"hi":21.5},{"g":10,"i":2,"m":13.5,"lo":6.5,"hi":26},{"g":10,"i":3,"m":15.5,"lo":8,"hi":28.5},{"g":10,"i":4,"m":15.5,"lo":8.5,"hi":27},{"g":10,"i":5,"m":15.5,"lo":8,"hi":29},{"g":10,"i":6,"m":16,"lo":9.5,"hi":28.5},{"g":10,"i":7,"m":16.5,"lo":9.5,"hi":27.5},{"g":10,"i":8,"m":17,"lo":8.5,"hi":32.5},{"g":10,"i":9,"m":17,"lo":10,"hi":28.5},{"g":10,"i":10,"m":17.5,"lo":8.5,"hi":33},
{"g":10,"i":11,"m":18,"lo":9,"hi":33},{"g":10,"i":12,"m":18,"lo":10,"hi":32.5},{"g":10,"i":13,"m":18.5,"lo":10.5,"hi":29.5},{"g":10,"i":14,"m":18.5,"lo":9.5,"hi":34},{"g":10,"i":15,"m":19,"lo":10,"hi":31},{"g":10,"i":16,"m":19,"lo":9,"hi":37.5},{"g":10,"i":17,"m":21,"lo":13.5,"hi":31},{"g":10,"i":18,"m":21,"lo":12,"hi":32},{"g":10,"i":19,"m":21.5,"lo":12,"hi":33.5},{"g":10,"i":20,"m":21.5,"lo":14,"hi":30.5},
{"g":10,"i":21,"m":21.5,"lo":12.5,"hi":34.5},{"g":10,"i":22,"m":22,"lo":14,"hi":32},{"g":10,"i":23,"m":22,"lo":12.5,"hi":33.5},{"g":10,"i":24,"m":22.5,"lo":13.5,"hi":34},{"g":10,"i":25,"m":22.5,"lo":14,"hi":33},{"g":10,"i":26,"m":22.5,"lo":14,"hi":33},{"g":10,"i":27,"m":23,"lo":14.5,"hi":34},{"g":10,"i":28,"m":23,"lo":14.5,"hi":33},{"g":10,"i":29,"m":23.5,"lo":13,"hi":34.5},{"g":10,"i":30,"m":23.5,"lo":14.5,"hi":35.5},
{"g":10,"i":31,"m":23.5,"lo":16,"hi":33},{"g":10,"i":32,"m":24,"lo":15,"hi":32.5},{"g":10,"i":33,"m":24,"lo":15.5,"hi":34},{"g":10,"i":34,"m":24.5,"lo":16.5,"hi":33},{"g":10,"i":35,"m":25,"lo":16,"hi":36},{"g":10,"i":36,"m":25,"lo":16.5,"hi":36},{"g":10,"i":37,"m":25,"lo":14.5,"hi":40},{"g":10,"i":38,"m":25.5,"lo":17,"hi":34},{"g":10,"i":39,"m":26,"lo":15.5,"hi":39.5},{"g":10,"i":40,"m":26,"lo":16,"hi":39},
{"g":10,"i":41,"m":26.5,"lo":18.5,"hi":35},{"g":10,"i":42,"m":26.5,"lo":14.5,"hi":43.5},{"g":10,"i":43,"m":27,"lo":17,"hi":40},{"g":10,"i":44,"m":27.5,"lo":18.5,"hi":37},{"g":10,"i":45,"m":28,"lo":16.5,"hi":42.5},{"g":10,"i":46,"m":28.5,"lo":20.5,"hi":37},{"g":10,"i":47,"m":28.5,"lo":18.5,"hi":39},{"g":10,"i":48,"m":30,"lo":20.5,"hi":39.5},{"g":10,"i":49,"m":30.5,"lo":23,"hi":38},{"g":10,"i":50,"m":31,"lo":23.5,"hi":40.5},
{"g":10,"i":51,"m":31,"lo":21,"hi":44},{"g":10,"i":52,"m":32,"lo":25.5,"hi":41},{"g":10,"i":53,"m":38,"lo":29,"hi":47.5}
]
},
"concat": [
{"width":418,"height":183,"title":{"text":"IOL Group 1 (nullip, 37-38 wk)"},
"layer":[
{"data":{"name":"pts"},"transform":[{"filter":"datum.g==1"}],"mark":{"type":"rule","color":"#333","strokeWidth":0.8},"encoding":{"x":{"field":"i","type":"quantitative","title":null,"scale":{"domain":[0,75],"nice":false}},"y":{"field":"lo","type":"quantitative","title":null,"scale":{"domain":[0,100],"nice":false}},"y2":{"field":"hi"}}},
{"data":{"name":"pts"},"transform":[{"filter":"datum.g==1"}],"mark":{"type":"tick","orient":"horizontal","size":4,"thickness":0.8,"color":"#333"},"encoding":{"x":{"field":"i","type":"quantitative","title":null},"y":{"field":"lo","type":"quantitative","title":null}}},
{"data":{"name":"pts"},"transform":[{"filter":"datum.g==1"}],"mark":{"type":"tick","orient":"horizontal","size":4,"thickness":0.8,"color":"#333"},"encoding":{"x":{"field":"i","type":"quantitative","title":null},"y":{"field":"hi","type":"quantitative","title":null}}},
{"data":{"name":"means"},"transform":[{"filter":"datum.g==1"}],"mark":{"type":"rule","color":"#e8262b","strokeWidth":1.8},"encoding":{"x":{"field":"a","type":"quantitative","title":null},"x2":{"field":"b"},"y":{"field":"m","type":"quantitative","title":null}}},
{"data":{"name":"pts"},"transform":[{"filter":"datum.g==1"}],"mark":{"type":"point","filled":true,"shape":"circle","color":"#000","size":18,"opacity":1},"encoding":{"x":{"field":"i","type":"quantitative","title":null},"y":{"field":"m","type":"quantitative","title":null}}}
]},
{"width":418,"height":183,"title":{"text":"IOL Group 2 (Nullip 39-40 wk)"},
"layer":[
{"data":{"name":"pts"},"transform":[{"filter":"datum.g==2"}],"mark":{"type":"rule","color":"#333","strokeWidth":0.8},"encoding":{"x":{"field":"i","type":"quantitative","title":null,"scale":{"domain":[0,75],"nice":false}},"y":{"field":"lo","type":"quantitative","title":null,"scale":{"domain":[0,100],"nice":false}},"y2":{"field":"hi"}}},
{"data":{"name":"pts"},"transform":[{"filter":"datum.g==2"}],"mark":{"type":"tick","orient":"horizontal","size":4,"thickness":0.8,"color":"#333"},"encoding":{"x":{"field":"i","type":"quantitative","title":null},"y":{"field":"lo","type":"quantitative","title":null}}},
{"data":{"name":"pts"},"transform":[{"filter":"datum.g==2"}],"mark":{"type":"tick","orient":"horizontal","size":4,"thickness":0.8,"color":"#333"},"encoding":{"x":{"field":"i","type":"quantitative","title":null},"y":{"field":"hi","type":"quantitative","title":null}}},
{"data":{"name":"means"},"transform":[{"filter":"datum.g==2"}],"mark":{"type":"rule","color":"#e8262b","strokeWidth":1.8},"encoding":{"x":{"field":"a","type":"quantitative","title":null},"x2":{"field":"b"},"y":{"field":"m","type":"quantitative","title":null}}},
{"data":{"name":"pts"},"transform":[{"filter":"datum.g==2"}],"mark":{"type":"point","filled":true,"shape":"circle","color":"#000","size":18,"opacity":1},"encoding":{"x":{"field":"i","type":"quantitative","title":null},"y":{"field":"m","type":"quantitative","title":null}}}
]},
{"width":418,"height":183,"title":{"text":"IOL Group 3 (nullip, 41+wk)"},
"layer":[
{"data":{"name":"pts"},"transform":[{"filter":"datum.g==3"}],"mark":{"type":"rule","color":"#333","strokeWidth":0.8},"encoding":{"x":{"field":"i","type":"quantitative","title":null,"scale":{"domain":[0,75],"nice":false}},"y":{"field":"lo","type":"quantitative","title":null,"scale":{"domain":[0,100],"nice":false}},"y2":{"field":"hi"}}},
{"data":{"name":"pts"},"transform":[{"filter":"datum.g==3"}],"mark":{"type":"tick","orient":"horizontal","size":4,"thickness":0.8,"color":"#333"},"encoding":{"x":{"field":"i","type":"quantitative","title":null},"y":{"field":"lo","type":"quantitative","title":null}}},
{"data":{"name":"pts"},"transform":[{"filter":"datum.g==3"}],"mark":{"type":"tick","orient":"horizontal","size":4,"thickness":0.8,"color":"#333"},"encoding":{"x":{"field":"i","type":"quantitative","title":null},"y":{"field":"hi","type":"quantitative","title":null}}},
{"data":{"name":"means"},"transform":[{"filter":"datum.g==3"}],"mark":{"type":"rule","color":"#e8262b","strokeWidth":1.8},"encoding":{"x":{"field":"a","type":"quantitative","title":null},"x2":{"field":"b"},"y":{"field":"m","type":"quantitative","title":null}}},
{"data":{"name":"pts"},"transform":[{"filter":"datum.g==3"}],"mark":{"type":"point","filled":true,"shape":"circle","color":"#000","size":18,"opacity":1},"encoding":{"x":{"field":"i","type":"quantitative","title":null},"y":{"field":"m","type":"quantitative","title":null}}}
]},
{"width":418,"height":183,"title":{"text":"IOL Group 4 (multip37-38 wk)"},
"layer":[
{"data":{"name":"pts"},"transform":[{"filter":"datum.g==4"}],"mark":{"type":"rule","color":"#333","strokeWidth":0.8},"encoding":{"x":{"field":"i","type":"quantitative","title":null,"scale":{"domain":[0,75],"nice":false}},"y":{"field":"lo","type":"quantitative","title":null,"scale":{"domain":[0,100],"nice":false}},"y2":{"field":"hi"}}},
{"data":{"name":"pts"},"transform":[{"filter":"datum.g==4"}],"mark":{"type":"tick","orient":"horizontal","size":4,"thickness":0.8,"color":"#333"},"encoding":{"x":{"field":"i","type":"quantitative","title":null},"y":{"field":"lo","type":"quantitative","title":null}}},
{"data":{"name":"pts"},"transform":[{"filter":"datum.g==4"}],"mark":{"type":"tick","orient":"horizontal","size":4,"thickness":0.8,"color":"#333"},"encoding":{"x":{"field":"i","type":"quantitative","title":null},"y":{"field":"hi","type":"quantitative","title":null}}},
{"data":{"name":"means"},"transform":[{"filter":"datum.g==4"}],"mark":{"type":"rule","color":"#e8262b","strokeWidth":1.8},"encoding":{"x":{"field":"a","type":"quantitative","title":null},"x2":{"field":"b"},"y":{"field":"m","type":"quantitative","title":null}}},
{"data":{"name":"pts"},"transform":[{"filter":"datum.g==4"}],"mark":{"type":"point","filled":true,"shape":"circle","color":"#000","size":18,"opacity":1},"encoding":{"x":{"field":"i","type":"quantitative","title":null},"y":{"field":"m","type":"quantitative","title":null}}}
]},
{"width":418,"height":183,"title":{"text":"IOL Group 5 multip 39-40 wk)"},
"layer":[
{"data":{"name":"pts"},"transform":[{"filter":"datum.g==5"}],"mark":{"type":"rule","color":"#333","strokeWidth":0.8},"encoding":{"x":{"field":"i","type":"quantitative","title":null,"scale":{"domain":[0,75],"nice":false}},"y":{"field":"lo","type":"quantitative","title":null,"scale":{"domain":[0,100],"nice":false}},"y2":{"field":"hi"}}},
{"data":{"name":"pts"},"transform":[{"filter":"datum.g==5"}],"mark":{"type":"tick","orient":"horizontal","size":4,"thickness":0.8,"color":"#333"},"encoding":{"x":{"field":"i","type":"quantitative","title":null},"y":{"field":"lo","type":"quantitative","title":null}}},
{"data":{"name":"pts"},"transform":[{"filter":"datum.g==5"}],"mark":{"type":"tick","orient":"horizontal","size":4,"thickness":0.8,"color":"#333"},"encoding":{"x":{"field":"i","type":"quantitative","title":null},"y":{"field":"hi","type":"quantitative","title":null}}},
{"data":{"name":"means"},"transform":[{"filter":"datum.g==5"}],"mark":{"type":"rule","color":"#e8262b","strokeWidth":1.8},"encoding":{"x":{"field":"a","type":"quantitative","title":null},"x2":{"field":"b"},"y":{"field":"m","type":"quantitative","title":null}}},
{"data":{"name":"pts"},"transform":[{"filter":"datum.g==5"}],"mark":{"type":"point","filled":true,"shape":"circle","color":"#000","size":18,"opacity":1},"encoding":{"x":{"field":"i","type":"quantitative","title":null},"y":{"field":"m","type":"quantitative","title":null}}}
]},
{"width":418,"height":183,"title":{"text":"IOL Group 6 (multip 41+)"},
"layer":[
{"data":{"name":"pts"},"transform":[{"filter":"datum.g==6"}],"mark":{"type":"rule","color":"#333","strokeWidth":0.8},"encoding":{"x":{"field":"i","type":"quantitative","title":null,"scale":{"domain":[0,75],"nice":false}},"y":{"field":"lo","type":"quantitative","title":null,"scale":{"domain":[0,100],"nice":false}},"y2":{"field":"hi"}}},
{"data":{"name":"pts"},"transform":[{"filter":"datum.g==6"}],"mark":{"type":"tick","orient":"horizontal","size":4,"thickness":0.8,"color":"#333"},"encoding":{"x":{"field":"i","type":"quantitative","title":null},"y":{"field":"lo","type":"quantitative","title":null}}},
{"data":{"name":"pts"},"transform":[{"filter":"datum.g==6"}],"mark":{"type":"tick","orient":"horizontal","size":4,"thickness":0.8,"color":"#333"},"encoding":{"x":{"field":"i","type":"quantitative","title":null},"y":{"field":"hi","type":"quantitative","title":null}}},
{"data":{"name":"means"},"transform":[{"filter":"datum.g==6"}],"mark":{"type":"rule","color":"#e8262b","strokeWidth":1.8},"encoding":{"x":{"field":"a","type":"quantitative","title":null},"x2":{"field":"b"},"y":{"field":"m","type":"quantitative","title":null}}},
{"data":{"name":"pts"},"transform":[{"filter":"datum.g==6"}],"mark":{"type":"point","filled":true,"shape":"circle","color":"#000","size":18,"opacity":1},"encoding":{"x":{"field":"i","type":"quantitative","title":null},"y":{"field":"m","type":"quantitative","title":null}}}
]},
{"width":418,"height":183,"title":{"text":"IOL Group 7 (<=36 wk, no prev CS)"},
"layer":[
{"data":{"name":"pts"},"transform":[{"filter":"datum.g==7"}],"mark":{"type":"rule","color":"#333","strokeWidth":0.8},"encoding":{"x":{"field":"i","type":"quantitative","title":null,"scale":{"domain":[0,75],"nice":false}},"y":{"field":"lo","type":"quantitative","title":null,"scale":{"domain":[0,100],"nice":false}},"y2":{"field":"hi"}}},
{"data":{"name":"pts"},"transform":[{"filter":"datum.g==7"}],"mark":{"type":"tick","orient":"horizontal","size":4,"thickness":0.8,"color":"#333"},"encoding":{"x":{"field":"i","type":"quantitative","title":null},"y":{"field":"lo","type":"quantitative","title":null}}},
{"data":{"name":"pts"},"transform":[{"filter":"datum.g==7"}],"mark":{"type":"tick","orient":"horizontal","size":4,"thickness":0.8,"color":"#333"},"encoding":{"x":{"field":"i","type":"quantitative","title":null},"y":{"field":"hi","type":"quantitative","title":null}}},
{"data":{"name":"means"},"transform":[{"filter":"datum.g==7"}],"mark":{"type":"rule","color":"#e8262b","strokeWidth":1.8},"encoding":{"x":{"field":"a","type":"quantitative","title":null},"x2":{"field":"b"},"y":{"field":"m","type":"quantitative","title":null}}},
{"data":{"name":"pts"},"transform":[{"filter":"datum.g==7"}],"mark":{"type":"point","filled":true,"shape":"circle","color":"#000","size":18,"opacity":1},"encoding":{"x":{"field":"i","type":"quantitative","title":null},"y":{"field":"m","type":"quantitative","title":null}}}
]},
{"width":418,"height":183,"title":{"text":"IOL Group 8 (prev CS)"},
"layer":[
{"data":{"name":"pts"},"transform":[{"filter":"datum.g==8"}],"mark":{"type":"rule","color":"#333","strokeWidth":0.8},"encoding":{"x":{"field":"i","type":"quantitative","title":null,"scale":{"domain":[0,75],"nice":false}},"y":{"field":"lo","type":"quantitative","title":null,"scale":{"domain":[0,100],"nice":false}},"y2":{"field":"hi"}}},
{"data":{"name":"pts"},"transform":[{"filter":"datum.g==8"}],"mark":{"type":"tick","orient":"horizontal","size":4,"thickness":0.8,"color":"#333"},"encoding":{"x":{"field":"i","type":"quantitative","title":null},"y":{"field":"lo","type":"quantitative","title":null}}},
{"data":{"name":"pts"},"transform":[{"filter":"datum.g==8"}],"mark":{"type":"tick","orient":"horizontal","size":4,"thickness":0.8,"color":"#333"},"encoding":{"x":{"field":"i","type":"quantitative","title":null},"y":{"field":"hi","type":"quantitative","title":null}}},
{"data":{"name":"means"},"transform":[{"filter":"datum.g==8"}],"mark":{"type":"rule","color":"#e8262b","strokeWidth":1.8},"encoding":{"x":{"field":"a","type":"quantitative","title":null},"x2":{"field":"b"},"y":{"field":"m","type":"quantitative","title":null}}},
{"data":{"name":"pts"},"transform":[{"filter":"datum.g==8"}],"mark":{"type":"point","filled":true,"shape":"circle","color":"#000","size":18,"opacity":1},"encoding":{"x":{"field":"i","type":"quantitative","title":null},"y":{"field":"m","type":"quantitative","title":null}}}
]},
{"width":418,"height":183,"title":{"text":"IOL Group 9 (single, non-cephalic)"},
"layer":[
{"data":{"name":"pts"},"transform":[{"filter":"datum.g==9"}],"mark":{"type":"rule","color":"#333","strokeWidth":0.8},"encoding":{"x":{"field":"i","type":"quantitative","title":null,"scale":{"domain":[0,75],"nice":false}},"y":{"field":"lo","type":"quantitative","title":null,"scale":{"domain":[0,100],"nice":false}},"y2":{"field":"hi"}}},
{"data":{"name":"pts"},"transform":[{"filter":"datum.g==9"}],"mark":{"type":"tick","orient":"horizontal","size":4,"thickness":0.8,"color":"#333"},"encoding":{"x":{"field":"i","type":"quantitative","title":null},"y":{"field":"lo","type":"quantitative","title":null}}},
{"data":{"name":"pts"},"transform":[{"filter":"datum.g==9"}],"mark":{"type":"tick","orient":"horizontal","size":4,"thickness":0.8,"color":"#333"},"encoding":{"x":{"field":"i","type":"quantitative","title":null},"y":{"field":"hi","type":"quantitative","title":null}}},
{"data":{"name":"means"},"transform":[{"filter":"datum.g==9"}],"mark":{"type":"rule","color":"#e8262b","strokeWidth":1.8},"encoding":{"x":{"field":"a","type":"quantitative","title":null},"x2":{"field":"b"},"y":{"field":"m","type":"quantitative","title":null}}},
{"data":{"name":"pts"},"transform":[{"filter":"datum.g==9"}],"mark":{"type":"point","filled":true,"shape":"circle","color":"#000","size":18,"opacity":1},"encoding":{"x":{"field":"i","type":"quantitative","title":null},"y":{"field":"m","type":"quantitative","title":null}}}
]},
{"width":418,"height":183,"title":{"text":"IOL Group 10 (multi-fetal)"},
"layer":[
{"data":{"name":"pts"},"transform":[{"filter":"datum.g==10"}],"mark":{"type":"rule","color":"#333","strokeWidth":0.8},"encoding":{"x":{"field":"i","type":"quantitative","title":null,"scale":{"domain":[0,75],"nice":false}},"y":{"field":"lo","type":"quantitative","title":null,"scale":{"domain":[0,100],"nice":false}},"y2":{"field":"hi"}}},
{"data":{"name":"pts"},"transform":[{"filter":"datum.g==10"}],"mark":{"type":"tick","orient":"horizontal","size":4,"thickness":0.8,"color":"#333"},"encoding":{"x":{"field":"i","type":"quantitative","title":null},"y":{"field":"lo","type":"quantitative","title":null}}},
{"data":{"name":"pts"},"transform":[{"filter":"datum.g==10"}],"mark":{"type":"tick","orient":"horizontal","size":4,"thickness":0.8,"color":"#333"},"encoding":{"x":{"field":"i","type":"quantitative","title":null},"y":{"field":"hi","type":"quantitative","title":null}}},
{"data":{"name":"means"},"transform":[{"filter":"datum.g==10"}],"mark":{"type":"rule","color":"#e8262b","strokeWidth":1.8},"encoding":{"x":{"field":"a","type":"quantitative","title":null},"x2":{"field":"b"},"y":{"field":"m","type":"quantitative","title":null}}},
{"data":{"name":"pts"},"transform":[{"filter":"datum.g==10"}],"mark":{"type":"point","filled":true,"shape":"circle","color":"#000","size":18,"opacity":1},"encoding":{"x":{"field":"i","type":"quantitative","title":null},"y":{"field":"m","type":"quantitative","title":null}}}
]}
],
"config": {
"view": {"stroke": null},
"axis": {"labelFontSize": 6, "labelFont": "Liberation Sans", "labelColor": "#555", "domainColor": "#a0a0a0", "tickColor": "#a0a0a0", "tickSize": 3, "labelPadding": 2},
"axisX": {"grid": false, "tickCount": 8},
"axisY": {"grid": true, "gridColor": "#c4c4c4", "gridWidth": 1, "tickCount": 10},
"title": {"font": "Lato", "fontSize": 11, "fontWeight": "bold", "color": "#111", "anchor": "middle", "frame": "group", "baseline": "top", "offset": -21}
}
}
